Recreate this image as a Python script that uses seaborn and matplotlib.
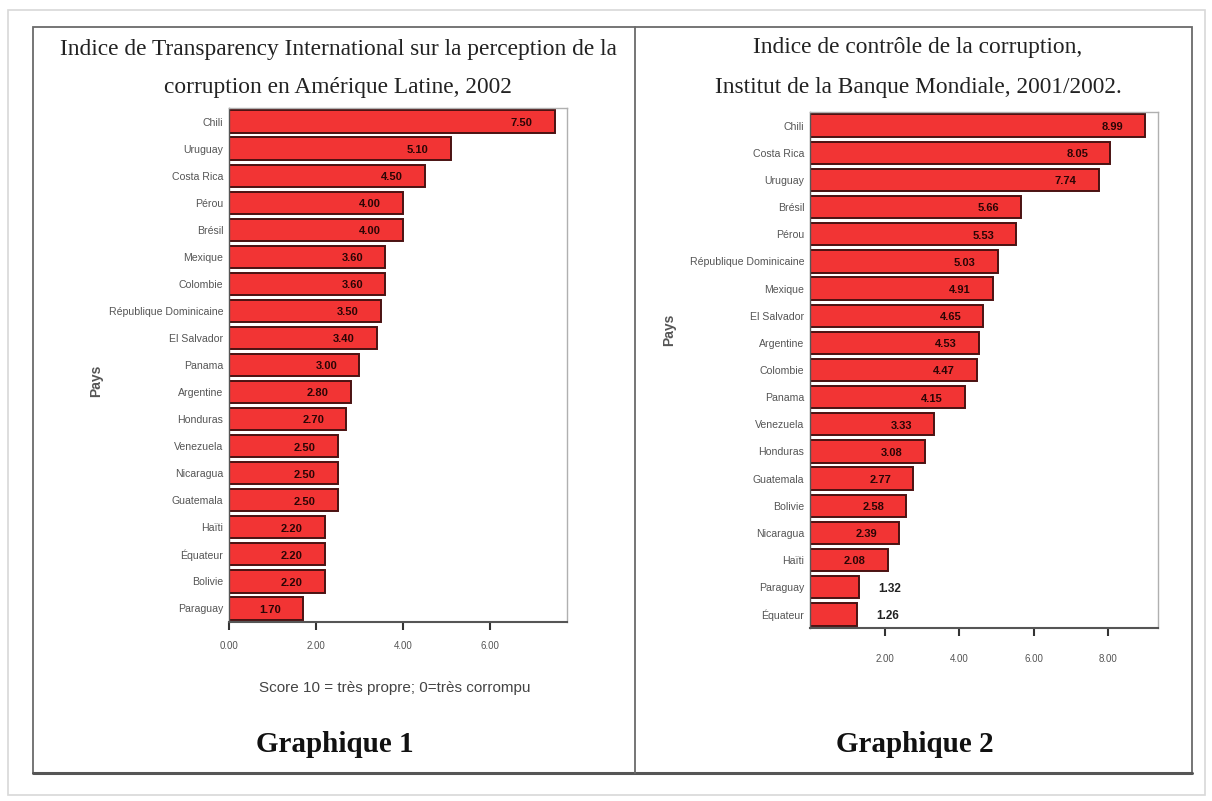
import matplotlib
matplotlib.use('Agg')
import matplotlib.pyplot as plt
import seaborn as sns
import pandas as pd
from matplotlib.lines import Line2D
from matplotlib.patches import Rectangle

# données graphique 1 (Transparency International 2002)
pays_ti = ['Chili', 'Uruguay', 'Costa Rica', 'Pérou', 'Brésil', 'Mexique', 'Colombie',
           'République Dominicaine', 'El Salvador', 'Panama', 'Argentine', 'Honduras',
           'Venezuela', 'Nicaragua', 'Guatemala', 'Haïti', 'Équateur', 'Bolivie', 'Paraguay']
score_ti = [7.50, 5.10, 4.50, 4.00, 4.00, 3.60, 3.60, 3.50, 3.40, 3.00, 2.80, 2.70,
            2.50, 2.50, 2.50, 2.20, 2.20, 2.20, 1.70]

# données graphique 2 (Banque Mondiale 2001/2002)
pays_bm = ['Chili', 'Costa Rica', 'Uruguay', 'Brésil', 'Pérou', 'République Dominicaine',
           'Mexique', 'El Salvador', 'Argentine', 'Colombie', 'Panama', 'Venezuela',
           'Honduras', 'Guatemala', 'Bolivie', 'Nicaragua', 'Haïti', 'Paraguay', 'Équateur']
score_bm = [8.99, 8.05, 7.74, 5.66, 5.53, 5.03, 4.91, 4.65, 4.53, 4.47, 4.15, 3.33,
            3.08, 2.77, 2.58, 2.39, 2.08, 1.32, 1.26]

ticks_1 = [0, 2, 4, 6]
ticks_2 = [2, 4, 6, 8]

sns.set_style('white')
plt.rcParams['font.family'] = ['Liberation Sans', 'DejaVu Sans']

W, H = 1212, 801
fig = plt.figure(figsize=(W / 100, H / 100), dpi=100, facecolor='white')

def px(x0, y0, x1, y1):
    return [x0 / W, 1 - y1 / H, (x1 - x0) / W, (y1 - y0) / H]

ROUGE = '#f23434'
BORD = '#4a1212'


def trace(ax, pays, score, xmax, ticks, pays_pos, inside_min, tick_pad):
    df = pd.DataFrame({'Pays': pays, 'Score': score})
    sns.barplot(data=df, x='Score', y='Pays', orient='h', color=ROUGE, saturation=1,
                edgecolor=BORD, linewidth=1.4, width=0.82, ax=ax)
    ax.set_xlim(0, xmax)
    ax.set_ylim(len(pays) - 0.5, -0.5)
    ax.set_xticks(ticks)
    ax.set_xticklabels([f'{t:.2f}' for t in ticks], fontsize=7, color='#555555')
    ax.tick_params(axis='x', bottom=True, direction='out', length=6, width=1.5,
                   color='#333333', pad=tick_pad)
    ax.tick_params(axis='y', left=False, length=0, labelsize=7.6, labelcolor='#555555', pad=4)
    ax.set_xlabel('')
    ax.set_ylabel('Pays', fontsize=10, fontweight='bold', color='#555555')
    ax.yaxis.set_label_coords(*pays_pos)
    for nom in ['top', 'right']:
        ax.spines[nom].set_color('#b0b0b0')
        ax.spines[nom].set_linewidth(1.0)
    ax.spines['bottom'].set_color('#555555')
    ax.spines['bottom'].set_linewidth(1.5)
    ax.spines['left'].set_color('#555555')
    ax.spines['left'].set_linewidth(1.0)
    for p, v in zip(ax.patches, score):
        y = p.get_y() + p.get_height() / 2
        if v >= inside_min:
            ax.annotate(f'{v:.2f}', xy=(p.get_width(), y), xytext=(-16, -1),
                        textcoords='offset points', ha='right', va='center',
                        fontsize=8, fontweight='bold', color='#2a0505')
        else:
            ax.annotate(f'{v:.2f}', xy=(p.get_width(), y), xytext=(14, -1),
                        textcoords='offset points', ha='left', va='center',
                        fontsize=8.5, fontweight='bold', color='#222222')


ax1 = fig.add_axes(px(229, 108, 567, 622))
trace(ax1, pays_ti, score_ti, 7.78, ticks_1, (-0.373, 0.47), 0, 8)

ax2 = fig.add_axes(px(810, 112, 1158, 628))
trace(ax2, pays_bm, score_bm, 9.33, ticks_2, (-0.385, 0.578), 2, 13)

# titres
serif = ['Liberation Serif', 'DejaVu Serif']
fig.text(338 / W, 1 - 50 / H, 'Indice de Transparency International sur la perception de la',
         ha='center', va='center', fontsize=16.8, family=serif, color='#222222')
fig.text(338 / W, 1 - 88 / H, 'corruption en Amérique Latine, 2002',
         ha='center', va='center', fontsize=16.8, family=serif, color='#222222')
fig.text(918 / W, 1 - 48 / H, 'Indice de contrôle de la corruption,',
         ha='center', va='center', fontsize=16.8, family=serif, color='#222222')
fig.text(918 / W, 1 - 88 / H, 'Institut de la Banque Mondiale, 2001/2002.',
         ha='center', va='center', fontsize=16.8, family=serif, color='#222222')

fig.text(395 / W, 1 - 688 / H, 'Score 10 = très propre; 0=très corrompu',
         ha='center', va='center', fontsize=11, color='#444444')

fig.text(335 / W, 1 - 745 / H, 'Graphique 1', ha='center', va='center',
         fontsize=21, fontweight='bold', family=serif, color='#111111')
fig.text(915 / W, 1 - 745 / H, 'Graphique 2', ha='center', va='center',
         fontsize=21, fontweight='bold', family=serif, color='#111111')

# cadres
fig.add_artist(Rectangle((8 / W, 1 - 795 / H), (1205 - 8) / W, (795 - 10) / H,
                         transform=fig.transFigure, fill=False, edgecolor='#d8d8d8', lw=1.2))
fig.add_artist(Rectangle((33 / W, 1 - 773 / H), (1192 - 33) / W, (773 - 27) / H,
                         transform=fig.transFigure, fill=False, edgecolor='#6a6a6a', lw=1.3))
fig.add_artist(Line2D([33 / W, 1192 / W], [1 - 773 / H] * 2, transform=fig.transFigure,
                      color='#555555', lw=2.2))
fig.add_artist(Line2D([635 / W] * 2, [1 - 27 / H, 1 - 773 / H], transform=fig.transFigure,
                      color='#6a6a6a', lw=1.3))

fig.savefig('out.png', dpi=100, facecolor='white')
